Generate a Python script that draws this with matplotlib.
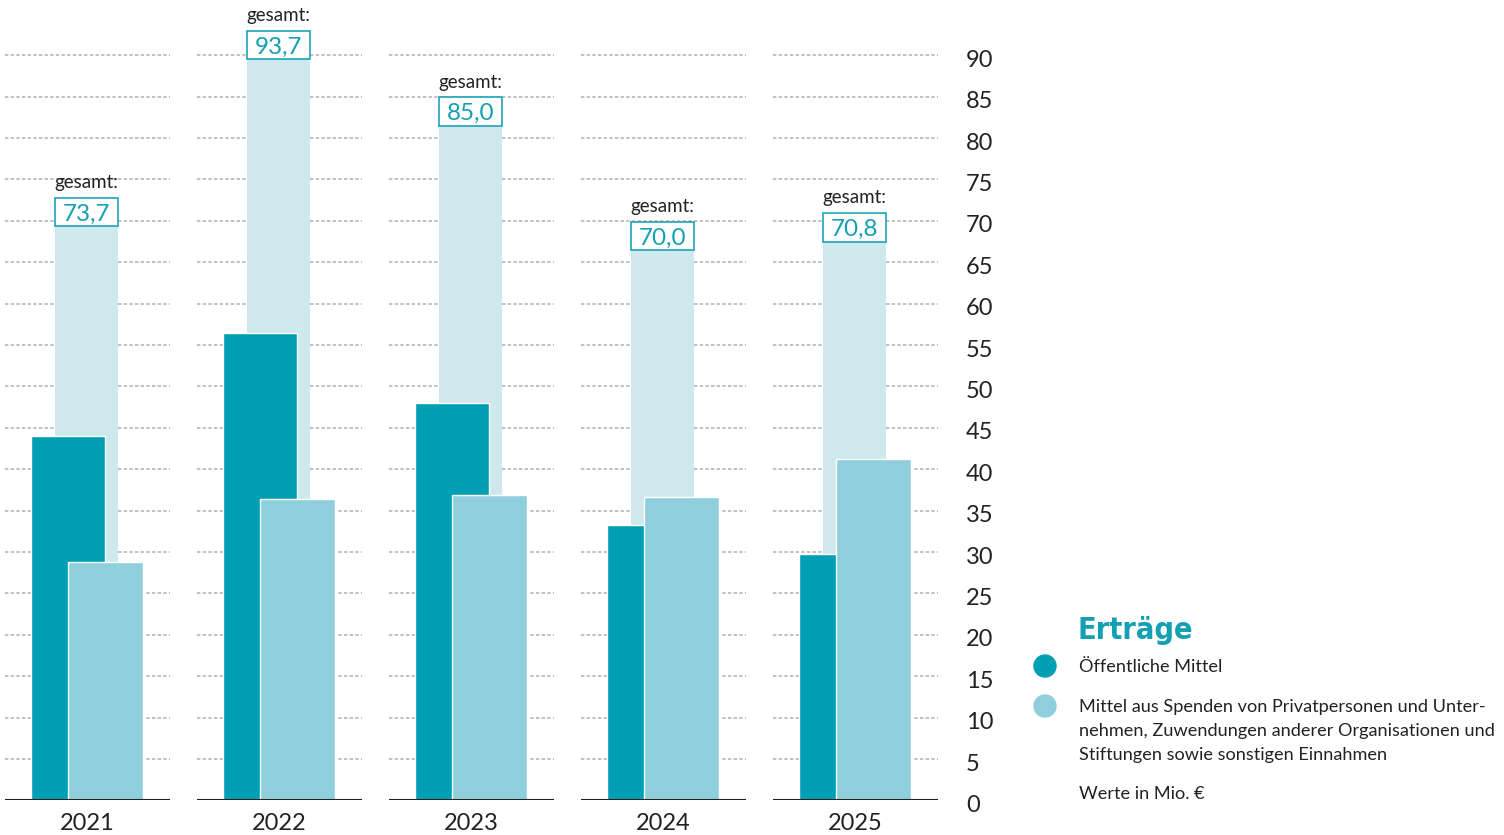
import matplotlib
matplotlib.use("Agg")
from matplotlib import pyplot as plt
from matplotlib import transforms
from matplotlib.patches import Rectangle, Circle
import numpy as np

plt.rcParams['font.family'] = ['Lato', 'DejaVu Sans']

years = ['2021', '2022', '2023', '2024', '2025']
oeffentlich = [44.0, 56.5, 48.0, 33.3, 29.7]
spenden = [28.8, 36.4, 36.9, 36.6, 41.2]
gesamt_labels = ['73,7', '93,7', '85,0', '70,0', '70,8']
y_ticks = list(range(0, 95, 5))

dark = '#009fb4'
light = '#8ecfdb'
pale = '#cfe8ee'
teal_txt = '#14a0b3'
txt = '#222222'

fig = plt.figure(figsize=(15.04, 8.35), dpi=100)
ax = fig.add_axes([5/1504, 34.6/835, 933/1504, 1 - 34.6/835])
ax.set_xlim(-0.43, 4.43)
ax.set_ylim(0, 96.67)

x = np.arange(len(years))
totals = np.array(oeffentlich) + np.array(spenden)

# grid segments per year group
for xi in x:
    ax.hlines(y_ticks[1:], xi - 0.43, xi + 0.43, colors='#b0b0b0',
              linestyles=(0, (2.2, 1.5)), linewidth=1.1, zorder=0)
    ax.hlines(0, xi - 0.43, xi + 0.43, colors=txt, linewidth=1.5, zorder=5)

ax.bar(x - 0.005, totals, width=0.328, color=pale, zorder=1)
ax.bar(x - 0.102, oeffentlich, width=0.385, color=dark, edgecolor='white', linewidth=1.0, zorder=2)
ax.bar(x + 0.094, spenden, width=0.39, color=light, edgecolor='white', linewidth=1.0, zorder=3)

box_h = 3.4
for xi, tot, lab in zip(x, totals, gesamt_labels):
    ax.add_patch(Rectangle((xi - 0.169, tot - box_h), 0.328, box_h, facecolor='white',
                           edgecolor='#1ba4b6', linewidth=1.2, zorder=4))
    ax.text(xi - 0.005, tot - 2.75, lab, ha='center', va='baseline', fontsize=17.5,
            color=teal_txt, zorder=6)
    ax.text(xi - 0.005, tot + 1.2, 'gesamt:', ha='center', va='baseline', fontsize=13.5,
            color=txt, zorder=6)
    ax.annotate(years[xi], (xi, 0), xytext=(0, -21), textcoords='offset points',
                ha='center', va='baseline', fontsize=17, color=txt, annotation_clip=False)

ax.set_xticks([])
ax.yaxis.tick_right()
ax.set_yticks(y_ticks)
ax.tick_params(axis='y', length=0, pad=20, labelsize=17, labelcolor=txt)
shift = transforms.ScaledTranslation(0, -3 / 100, fig.dpi_scale_trans)
for lbl in ax.get_yticklabels():
    lbl.set_transform(lbl.get_transform() + shift)
for s in ax.spines.values():
    s.set_visible(False)

# legend block in pixel coordinates
lax = fig.add_axes([0, 0, 1, 1])
lax.set_xlim(0, 1504)
lax.set_ylim(835, 0)
lax.axis('off')
lax.text(1078, 639, 'Erträge', fontsize=22, fontweight='bold', fontstretch='condensed',
         family='DejaVu Sans', color=teal_txt, va='baseline', ha='left')
lax.add_patch(Circle((1045, 666), 11, color=dark))
lax.add_patch(Circle((1045, 706), 11, color=light))
lax.text(1079, 672, 'Öffentliche Mittel', fontsize=13.1, color=txt, va='baseline')
legend_lines = ['Mittel aus Spenden von Privatpersonen und Unter-',
                'nehmen, Zuwendungen anderer Organisationen und',
                'Stiftungen sowie sonstigen Einnahmen']
for k, line in enumerate(legend_lines):
    lax.text(1079, 712 + 24 * k, line, fontsize=13.1, color=txt, va='baseline')
lax.text(1079, 799, 'Werte in Mio. €', fontsize=13.1, color=txt, va='baseline')

fig.savefig('out.png', dpi=100)
